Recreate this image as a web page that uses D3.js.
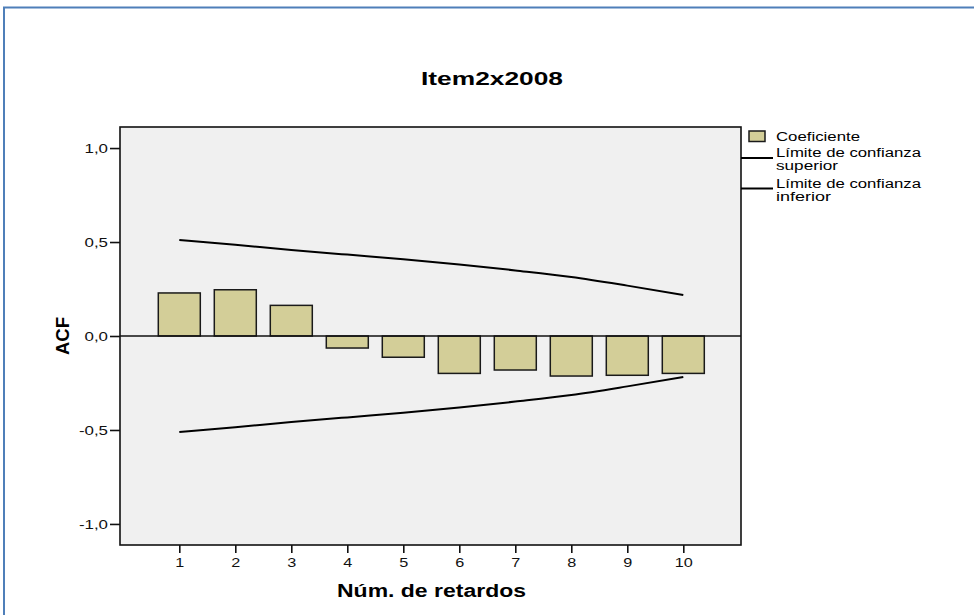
<!DOCTYPE html>
<html>
<head>
<meta charset="utf-8">
<script src="https://cdn.jsdelivr.net/npm/d3@7"></script>
<style>
  html, body { margin: 0; padding: 0; background: #fff; }
  svg { display: block; font-family: "Liberation Sans", Arial, sans-serif; }
</style>
</head>
<body>
<svg id="chart" width="974" height="615"></svg>
<script>
// Autocorrelation function for Item2x2008
const lags = [1, 2, 3, 4, 5, 6, 7, 8, 9, 10];
const acf = [0.229, 0.246, 0.163, -0.064, -0.113, -0.199, -0.181, -0.213, -0.209, -0.199];
const upperLimit = [0.511, 0.485, 0.458, 0.433, 0.409, 0.381, 0.349, 0.314, 0.268, 0.218];
const lowerLimit = [-0.511, -0.485, -0.458, -0.433, -0.409, -0.381, -0.349, -0.314, -0.268, -0.218];
const yTicks = [1.0, 0.5, 0.0, -0.5, -1.0];
const legendItems = ["Coeficiente", "Límite de confianza superior", "Límite de confianza inferior"];

const svg = d3.select("#chart");
const plot = { left: 120, right: 741, top: 127, bottom: 545 };

// widen glyphs horizontally (the SPSS output uses a broad sans face)
function widen(sel, factor) {
  sel.each(function () {
    const w = this.getComputedTextLength();
    d3.select(this).attr("textLength", w * factor).attr("lengthAdjust", "spacingAndGlyphs");
  });
}

// outer frame
svg.append("path")
  .attr("d", "M4,615 L4,7.5 L974,7.5")
  .attr("fill", "none")
  .attr("stroke", "#4f7fb9")
  .attr("stroke-width", 2);

const x = d3.scaleLinear().domain([0, 11]).range([123.3, 739.3]);
const y = d3.scaleLinear().domain([-1.112, 1.112]).range([plot.bottom, plot.top]);
const fmt = d => d3.format(".1f")(d).replace(".", ",").replace("−", "-");

// plot background
svg.append("rect")
  .attr("x", plot.left).attr("y", plot.top)
  .attr("width", plot.right - plot.left).attr("height", plot.bottom - plot.top)
  .attr("fill", "#f0f0f0");

// bars
const barW = 42;
svg.append("g").selectAll("rect").data(lags).join("rect")
  .attr("x", (d, i) => x(d) - barW / 2)
  .attr("y", (d, i) => Math.min(y(acf[i]), y(0)))
  .attr("width", barW)
  .attr("height", (d, i) => Math.abs(y(acf[i]) - y(0)))
  .attr("fill", "#d3ce98")
  .attr("stroke", "#1a1a1a")
  .attr("stroke-width", 1.5);

// zero line
svg.append("line")
  .attr("x1", plot.left).attr("x2", plot.right)
  .attr("y1", y(0)).attr("y2", y(0))
  .attr("stroke", "#111").attr("stroke-width", 1.6);

// confidence limits
const line = d3.line().x((d, i) => x(lags[i])).y(d => y(d)).curve(d3.curveMonotoneX);
[upperLimit, lowerLimit].forEach(arr => {
  svg.append("path")
    .attr("d", line(arr))
    .attr("fill", "none")
    .attr("stroke", "#000")
    .attr("stroke-width", 2);
});

// plot border
svg.append("rect")
  .attr("x", plot.left).attr("y", plot.top)
  .attr("width", plot.right - plot.left).attr("height", plot.bottom - plot.top)
  .attr("fill", "none").attr("stroke", "#111").attr("stroke-width", 1.6);

// y axis
const yAxis = svg.append("g")
  .attr("transform", `translate(${plot.left},0)`)
  .call(d3.axisLeft(y).tickValues(yTicks).tickSize(10).tickSizeOuter(0).tickFormat(fmt));
yAxis.select(".domain").remove();
yAxis.selectAll(".tick line").attr("stroke", "#111").attr("stroke-width", 1.6);
yAxis.selectAll(".tick text")
  .attr("x", -12)
  .attr("fill", "#111")
  .style("font-size", "13.5px")
  .style("font-family", "'Liberation Sans', Arial, sans-serif")
  .call(widen, 1.25);

// x axis
const xAxis = svg.append("g")
  .attr("transform", `translate(0,${plot.bottom})`)
  .call(d3.axisBottom(x).tickValues(lags).tickSize(8).tickSizeOuter(0).tickFormat(d3.format("d")));
xAxis.select(".domain").remove();
xAxis.selectAll(".tick line").attr("stroke", "#111").attr("stroke-width", 1.6);
xAxis.selectAll(".tick text")
  .attr("y", 12)
  .attr("fill", "#111")
  .style("font-size", "13.5px")
  .style("font-family", "'Liberation Sans', Arial, sans-serif")
  .call(widen, 1.2);

// titles
svg.append("text")
  .attr("x", 492).attr("y", 85)
  .attr("text-anchor", "middle")
  .style("font-size", "19px").style("font-weight", "bold")
  .text("Item2x2008")
  .attr("textLength", 142).attr("lengthAdjust", "spacingAndGlyphs");

svg.append("text")
  .attr("x", 431.5).attr("y", 597)
  .attr("text-anchor", "middle")
  .style("font-size", "18px").style("font-weight", "bold")
  .text("Núm. de retardos")
  .attr("textLength", 189).attr("lengthAdjust", "spacingAndGlyphs");

svg.append("text")
  .attr("transform", `translate(69,${y(0)}) rotate(-90)`)
  .attr("text-anchor", "middle")
  .style("font-size", "18px").style("font-weight", "bold")
  .text("ACF")
  .attr("textLength", 38).attr("lengthAdjust", "spacingAndGlyphs");

// legend
const lg = svg.append("g").style("font-size", "12.5px");
lg.append("rect")
  .attr("x", 749).attr("y", 131).attr("width", 16).attr("height", 10.5)
  .attr("fill", "#d3ce98").attr("stroke", "#1a1a1a").attr("stroke-width", 1.5);
lg.append("text").attr("x", 776).attr("y", 141).text(legendItems[0])
  .attr("textLength", 84).attr("lengthAdjust", "spacingAndGlyphs");

[[158, legendItems[1], 55], [188.5, legendItems[2], 55]].forEach(([ly, label, w2], k) => {
  lg.append("line")
    .attr("x1", 741).attr("x2", 773).attr("y1", ly).attr("y2", ly)
    .attr("stroke", "#000").attr("stroke-width", 2);
  const words = label.split(" ");
  lg.append("text").attr("x", 776).attr("y", ly - 1)
    .text(words.slice(0, 3).join(" "))
    .attr("textLength", 145).attr("lengthAdjust", "spacingAndGlyphs");
  lg.append("text").attr("x", 776).attr("y", ly + 12)
    .text(words.slice(3).join(" "))
    .attr("textLength", k === 0 ? 62 : 55).attr("lengthAdjust", "spacingAndGlyphs");
});
</script>
</body>
</html>
